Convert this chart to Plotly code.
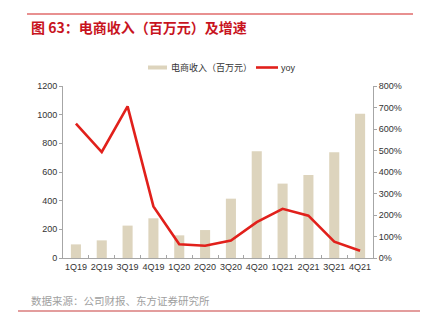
import plotly.graph_objects as go

# Quarterly e-commerce revenue (million yuan) and YoY growth (%)
quarters = ["1Q19", "2Q19", "3Q19", "4Q19", "1Q20", "2Q20",
            "3Q20", "4Q20", "1Q21", "2Q21", "3Q21", "4Q21"]
revenue = [95, 123, 226, 277, 158, 195, 414, 744, 519, 579, 737, 1007]
yoy_pct = [625, 493, 705, 240, 64, 57, 81, 167, 229, 197, 76, 34]

left_ticks = [0, 200, 400, 600, 800, 1000, 1200]
right_ticks = [0, 100, 200, 300, 400, 500, 600, 700, 800]

BAR_COLOR = "#DDD4BD"
LINE_COLOR = "#E1201B"
AXIS_COLOR = "#A6A6A6"
CJK = "Noto Sans CJK SC"
LATIN = "Liberation Sans"

# plot area in pixels: 310 wide, 172 tall
PW, PH = 310.0, 172.0


def px_x(dx):
    return dx / PW


def px_y(dy):
    return dy / PH


fig = go.Figure()
fig.add_trace(go.Bar(
    x=quarters, y=revenue, name="电商收入（百万元）",
    marker=dict(color=BAR_COLOR, line=dict(width=0)),
    width=0.39, yaxis="y", showlegend=False,
))
fig.add_trace(go.Scatter(
    x=quarters, y=yoy_pct, name="yoy", mode="lines",
    line=dict(color=LINE_COLOR, width=2.6), yaxis="y2", showlegend=False,
))

fig.update_layout(
    width=428, height=323,
    margin=dict(l=63, r=55, t=86, b=65),
    paper_bgcolor="white", plot_bgcolor="white",
    font=dict(family=LATIN, size=9, color="#333333"),
    xaxis=dict(
        type="category", showline=True, linecolor=AXIS_COLOR, linewidth=1,
        ticks="inside", tickson="boundaries", ticklen=3, tickcolor=AXIS_COLOR,
        showgrid=False, tickangle=0,
        tickfont=dict(family=LATIN, size=9, color="#333333"),
    ),
    yaxis=dict(
        range=[0, 1200], tickvals=left_ticks, showgrid=False, zeroline=False,
        showline=True, linecolor=AXIS_COLOR, linewidth=1,
        ticks="outside", ticklen=3, tickcolor=AXIS_COLOR,
        tickfont=dict(family=LATIN, size=9, color="#333333"),
    ),
    yaxis2=dict(
        range=[0, 800], tickvals=right_ticks,
        ticktext=[f"{v}%" for v in right_ticks],
        overlaying="y", side="right", showgrid=False, zeroline=False,
        showline=True, linecolor=AXIS_COLOR, linewidth=1,
        ticks="outside", ticklen=3, tickcolor=AXIS_COLOR,
        tickfont=dict(family=LATIN, size=9, color="#333333"),
    ),
)

# Legend drawn above the plot: bar swatch, label, line swatch, label
leg_y = 1 + px_y(86 - 67.5)
fig.add_shape(type="rect", xref="paper", yref="paper",
              x0=px_x(148 - 63), x1=px_x(167 - 63),
              y0=leg_y - px_y(2), y1=leg_y + px_y(2),
              fillcolor=BAR_COLOR, line=dict(width=0))
fig.add_annotation(xref="paper", yref="paper", x=px_x(169 - 63), y=leg_y,
                   xanchor="left", yanchor="middle", showarrow=False,
                   text="电商收入（百万元）",
                   font=dict(family=CJK, size=9, color="#333333"))
fig.add_shape(type="line", xref="paper", yref="paper",
              x0=px_x(256 - 63), x1=px_x(278 - 63), y0=leg_y, y1=leg_y,
              line=dict(color=LINE_COLOR, width=2.6))
fig.add_annotation(xref="paper", yref="paper", x=px_x(279 - 63), y=leg_y,
                   xanchor="left", yanchor="middle", showarrow=False,
                   text="yoy",
                   font=dict(family=LATIN, size=9, color="#333333"))

# Header rule and title
fig.add_shape(type="line", xref="paper", yref="paper",
              x0=px_x(-36), x1=px_x(350), y0=1 + px_y(72), y1=1 + px_y(72),
              line=dict(color="#E89090", width=2))
fig.add_annotation(
    xref="paper", yref="paper", x=px_x(-34), y=1 + px_y(59),
    xanchor="left", yanchor="middle", showarrow=False,
    text="<b>图 63：电商收入（百万元）及增速</b>",
    font=dict(family=CJK, size=14, color="#C8141E"),
)

# Source note and footer rule
fig.add_annotation(
    xref="paper", yref="paper", x=px_x(-34), y=-px_y(42),
    xanchor="left", yanchor="middle", showarrow=False,
    text="数据来源：公司财报、东方证券研究所",
    font=dict(family=CJK, size=10.5, color="#A0A0A0"),
)
fig.add_shape(type="line", xref="paper", yref="paper",
              x0=px_x(-45), x1=px_x(357), y0=-px_y(53), y1=-px_y(53),
              line=dict(color="#C83C3C", width=1.2))

fig.write_html("out.html")
